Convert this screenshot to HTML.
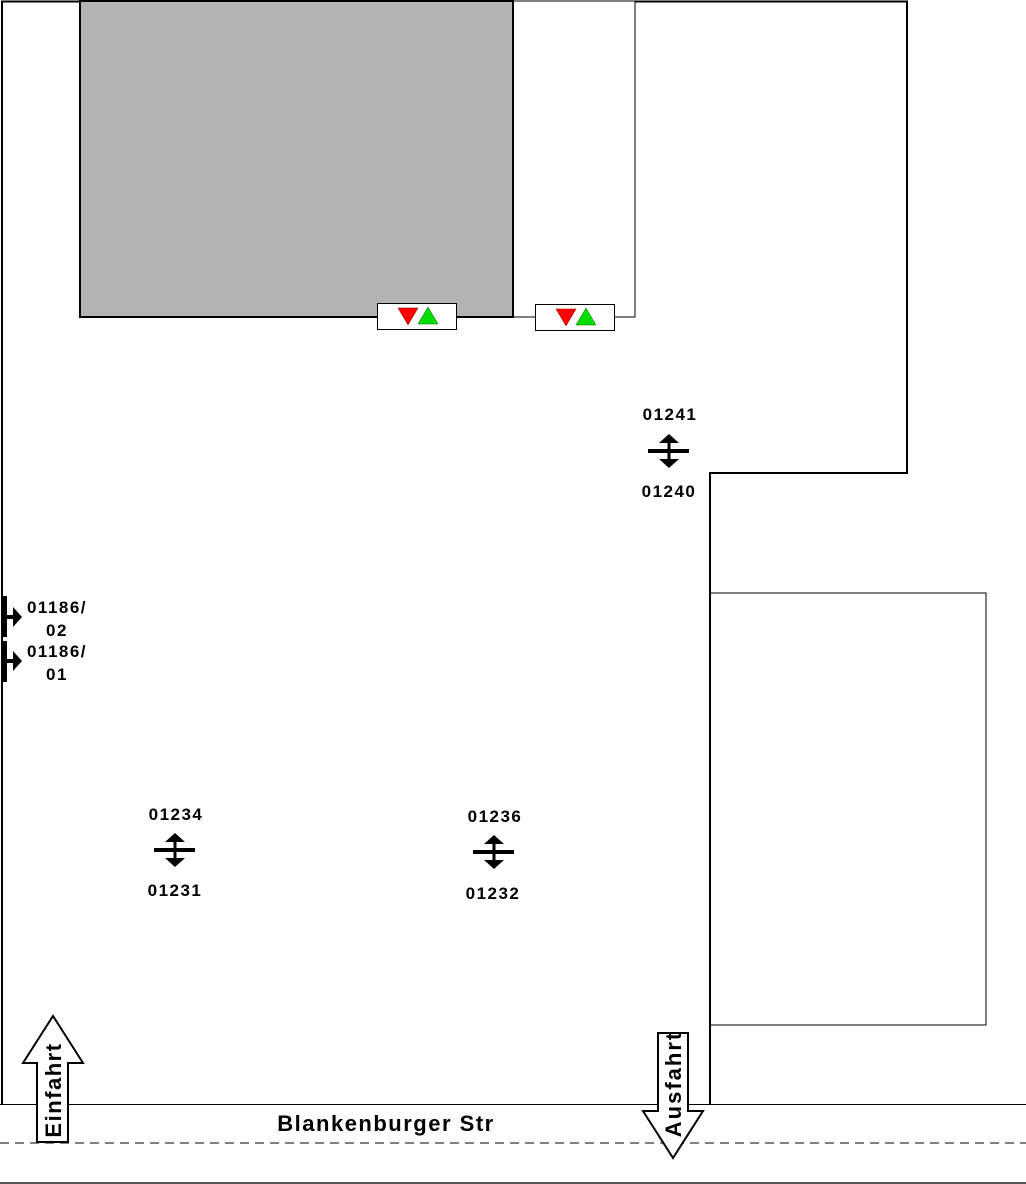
<!DOCTYPE html>
<html><head><style>html,body{margin:0;padding:0;background:#fff}svg{display:block}text{font-family:"Liberation Sans",Arial,sans-serif;font-weight:bold}</style></head>
<body>
<svg width="1026" height="1184" viewBox="0 0 1026 1184" xmlns="http://www.w3.org/2000/svg">
<defs>
<g id="stop">
<rect x="-21" y="-2" width="41" height="4" fill="#000"/>
<rect x="-1.5" y="-10" width="3" height="20" fill="#000"/>
<polygon points="0,-17 -10,-8 10,-8" fill="#000"/>
<polygon points="0,17 -10,8 10,8" fill="#000"/>
</g>
</defs>
<rect x="80" y="1" width="433" height="316" fill="#b3b3b3" stroke="#000" stroke-width="2"/>
<polyline points="513,1 635,1 635,317 513,317" fill="none" stroke="#000" stroke-width="1"/>
<polyline points="2,1104 2,1.5 80,1.5" fill="none" stroke="#000" stroke-width="2"/>
<polyline points="635,1.5 907,1.5 907,473 710,473 710,1104" fill="none" stroke="#000" stroke-width="2"/>
<rect x="710" y="593" width="276" height="432" fill="none" stroke="#000" stroke-width="1"/>
<line x1="0" y1="1104.5" x2="1026" y2="1104.5" stroke="#000" stroke-width="1"/>
<line x1="0" y1="1143" x2="1026" y2="1143" stroke="#808080" stroke-width="2" stroke-dasharray="9,6"/>
<line x1="0" y1="1183" x2="1026" y2="1183" stroke="#555" stroke-width="2"/>
<line x1="613" y1="317" x2="635" y2="317" stroke="#000"/>
<rect x="377.5" y="303.5" width="79" height="26" fill="#fff" stroke="#000"/>
<polygon points="398,308 418,308 408,325" fill="#f00" stroke="#800" stroke-width="0.5"/>
<polygon points="428,307 438,324 418,324" fill="#0d0" stroke="#060" stroke-width="0.5"/>
<rect x="535.5" y="304.5" width="79" height="26" fill="#fff" stroke="#000"/>
<polygon points="556,309 576,309 566,326" fill="#f00" stroke="#800" stroke-width="0.5"/>
<polygon points="586,308 596,325 576,325" fill="#0d0" stroke="#060" stroke-width="0.5"/>
<use href="#stop" x="175" y="850"/>
<use href="#stop" x="494" y="852"/>
<use href="#stop" x="669" y="451"/>
<g font-size="17" text-anchor="middle" letter-spacing="1.5">
<text x="176" y="820">01234</text>
<text x="175" y="896">01231</text>
<text x="495" y="822">01236</text>
<text x="493" y="899">01232</text>
<text x="670" y="420">01241</text>
<text x="669" y="497">01240</text>
<text x="57" y="613">01186/</text>
<text x="57" y="636">02</text>
<text x="57" y="657">01186/</text>
<text x="57" y="680">01</text>
</g>
<rect x="3" y="596" width="4" height="41" fill="#000"/>
<rect x="3" y="641" width="4" height="41" fill="#000"/>
<rect x="6" y="615" width="8" height="4" fill="#000"/>
<polygon points="13,607 22,617 13,627" fill="#000"/>
<rect x="6" y="659" width="8" height="4" fill="#000"/>
<polygon points="13,651 22,661 13,671" fill="#000"/>
<text x="386" y="1131" font-size="22" text-anchor="middle" letter-spacing="1.5">Blankenburger Str</text>
<polygon points="53,1016 83,1063 68,1063 68,1142 37,1142 37,1063 23,1063" fill="#fff" stroke="#000" stroke-width="2"/>
<text transform="translate(61,1090) rotate(-90)" font-size="22" text-anchor="middle" letter-spacing="1.5">Einfahrt</text>
<polygon points="658,1033 688,1033 688,1111 703,1111 673,1158 643,1111 658,1111" fill="#fff" stroke="#000" stroke-width="2"/>
<text transform="translate(681,1084) rotate(-90)" font-size="22" text-anchor="middle" letter-spacing="2">Ausfahrt</text>
</svg>
</body></html>
